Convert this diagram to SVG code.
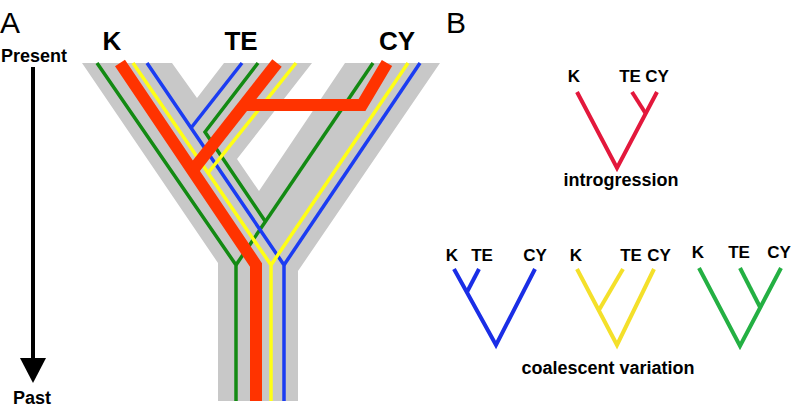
<svg xmlns="http://www.w3.org/2000/svg" width="796" height="409" viewBox="0 0 796 409">
<style>
text{font-family:"Liberation Sans",Arial,sans-serif;fill:#000}
.b{font-weight:bold}
.ln{fill:none;stroke-width:3.5;stroke-linejoin:miter}
.g{stroke:#138a13}.bl{stroke:#1b3cf2}.y{stroke:#ffff14}.r{stroke:#ff3300;stroke-width:12;fill:none}
.t{fill:none;stroke-width:4;stroke-linecap:butt}
.tr{stroke:#e3183c}.tb{stroke:#1a2ee6}.ty{stroke:#f4e02a}.tg{stroke:#24b043}
</style>
<rect width="796" height="409" fill="#fff"/>
<g id="panelA">
<text x="0" y="33" font-size="30">A</text>
<text x="1" y="62" font-size="18" class="b">Present</text>
<text x="13" y="404" font-size="18" class="b">Past</text>
<line x1="33" y1="67" x2="33" y2="360" stroke="#000" stroke-width="4"/>
<polygon points="20,358 46,358 33,383" fill="#000"/>
<text x="112" y="50" font-size="26" class="b" text-anchor="middle">K</text>
<text x="241" y="50" font-size="26" class="b" text-anchor="middle">TE</text>
<text x="397" y="50" font-size="26" class="b" text-anchor="middle">CY</text>
<polygon id="species" fill="#c8c8c8" points="82,63 172,63 197,98 224,63 312,63 237,159 259,191 345,63 440,63 298,271 298,401 218,401 218,263"/>
<g id="green">
<polyline class="ln g" points="97,63 236,265 236,401"/>
<polyline class="ln g" points="373,63 236,265"/>
<polyline class="ln g" points="258,63 205,132 265,221"/>
</g>
<g id="blue">
<polyline class="ln bl" points="147,63 284,265 284,401"/>
<polyline class="ln bl" points="242,63 191,128"/>
<polyline class="ln bl" points="420,63 284,265"/>
</g>
<g id="yellow">
<polyline class="ln y" points="133,63 271,265 271,401"/>
<polyline class="ln y" points="296,63 208,173"/>
<polyline class="ln y" points="408,63 271,265"/>
</g>
<g id="red">
<polyline class="r" points="120,63 256,265 256,401"/>
<polyline class="r" points="277,63 193,170"/>
<polyline class="r" points="387,63 362,105 244,105"/>
</g>
</g>
<g id="panelB">
<text x="446" y="33" font-size="30">B</text>
<g id="introgression">
<text x="574" y="82" font-size="17" class="b" text-anchor="middle">K</text>
<text x="630" y="82" font-size="17" class="b" text-anchor="middle">TE</text>
<text x="657" y="82" font-size="17" class="b" text-anchor="middle">CY</text>
<polyline class="t tr" points="577,92 617,168 657,92"/>
<line class="t tr" x1="632" y1="92" x2="646" y2="114"/>
<text x="621" y="186" font-size="18" class="b" text-anchor="middle">introgression</text>
</g>
<g id="treeBlue">
<text x="452" y="261" font-size="17" class="b" text-anchor="middle">K</text>
<text x="482" y="261" font-size="17" class="b" text-anchor="middle">TE</text>
<text x="535" y="261" font-size="17" class="b" text-anchor="middle">CY</text>
<polyline class="t tb" points="454,269 496,345 535,269"/>
<line class="t tb" x1="479" y1="269" x2="467" y2="292"/>
</g>
<g id="treeYellow">
<text x="576" y="261" font-size="17" class="b" text-anchor="middle">K</text>
<text x="631" y="261" font-size="17" class="b" text-anchor="middle">TE</text>
<text x="659" y="261" font-size="17" class="b" text-anchor="middle">CY</text>
<polyline class="t ty" points="577,269 617,345 654,269"/>
<line class="t ty" x1="623" y1="269" x2="599" y2="310"/>
</g>
<g id="treeGreen">
<text x="698" y="258" font-size="17" class="b" text-anchor="middle">K</text>
<text x="739" y="258" font-size="17" class="b" text-anchor="middle">TE</text>
<text x="779" y="258" font-size="17" class="b" text-anchor="middle">CY</text>
<polyline class="t tg" points="699,268 740,346 781,268"/>
<line class="t tg" x1="740" y1="268" x2="760" y2="307"/>
</g>
<text x="608" y="374" font-size="18" class="b" text-anchor="middle">coalescent variation</text>
</g>
</svg>
